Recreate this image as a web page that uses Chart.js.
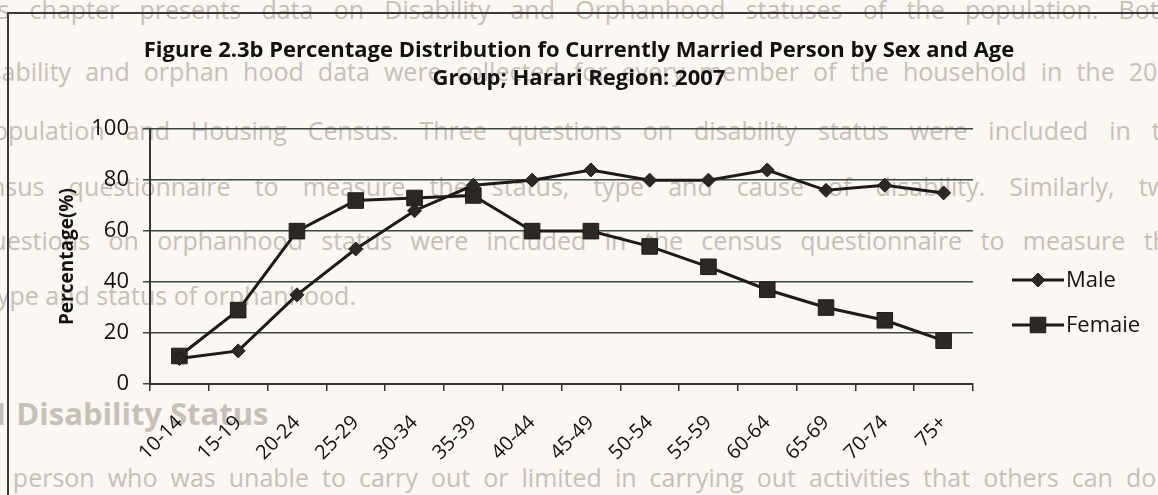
<!DOCTYPE html>
<html>
<head>
<meta charset="utf-8">
<script src="https://cdn.jsdelivr.net/npm/chart.js@4"></script>
<style>
  html, body { margin: 0; padding: 0; background: #fbf7f2; }
  #page { position: relative; width: 1158px; height: 495px; overflow: hidden; }
  .bg { position: absolute; white-space: nowrap; font-family: "Open Sans", sans-serif; font-size: 25px;
        color: #c6c0b9; line-height: 30px; text-align: justify; text-align-last: justify; }
  #frame { position: absolute; left: 7px; top: 12px; right: -5px; bottom: -5px;
           border-left: 2px solid #3a3a3a; border-top: 2px solid #3a3a3a; }
  canvas { position: absolute; left: 0; top: 0; }
</style>
</head>
<body>
<div id="page">
  <!-- text from the page behind, showing through the scan -->
  <div class="bg" style="left:-38px; top:-6px; width:1212px;">This chapter presents data on Disability and Orphanhood statuses of the population. Both</div>
  <div class="bg" style="left:-32px; top:56px; width:1218px;">disability and orphan hood data were collected for every member of the household in the 2007</div>
  <div class="bg" style="left:-22px; top:115px; width:1212px;">Population and Housing Census. Three questions on disability status were included in the</div>
  <div class="bg" style="left:-36px; top:171px; width:1218px;">census questionnaire to measure the status, type and cause of disability. Similarly, two</div>
  <div class="bg" style="left:-24px; top:225px; width:1206px;">questions on orphanhood status were included in the census questionnaire to measure the</div>
  <div class="bg" style="left:-12px; top:280px; text-align-last:left;">type and status of orphanhood.</div>
  <div class="bg" style="left:-36px; top:395px; font-size:31px; line-height:36px; font-weight:bold; text-align-last:left;">4.1 Disability Status</div>
  <div class="bg" style="left:-16px; top:462px; width:1230px;">A person who was unable to carry out or limited in carrying out activities that others can do due</div>
  <div id="frame"></div>
  <canvas id="grafico" width="1158" height="495"></canvas>
</div>
<script>
// Dados
const faixasEtarias = ['10-14', '15-19', '20-24', '25-29', '30-34', '35-39', '40-44',
                       '45-49', '50-54', '55-59', '60-64', '65-69', '70-74', '75+'];
const homens = [10, 13, 35, 53, 68, 78, 80, 84, 80, 80, 84, 76, 78, 75];
const mulheres = [11, 29, 60, 72, 73, 74, 60, 60, 54, 46, 37, 30, 25, 17];
const nomesSeries = ['Male', 'Femaie'];
const marcadores = ['rectRot', 'rect'];
const escalaY = { min: 0, max: 100, passo: 20 };

const corLinha = '#1d1b19';
const corMarcador = '#2c2825';
const fonte = '"Open Sans", Lato, sans-serif';

// legenda desenhada à mão: linha com marcador no meio, como no Excel
const legendaExcel = {
  id: 'legendaExcel',
  afterDraw(chart) {
    const ctx = chart.ctx;
    ctx.save();
    chart.data.datasets.forEach((ds, i) => {
      const y = 280 + i * 45;
      ctx.strokeStyle = corLinha;
      ctx.lineWidth = 3;
      ctx.beginPath();
      ctx.moveTo(1012, y);
      ctx.lineTo(1064, y);
      ctx.stroke();
      ctx.fillStyle = corMarcador;
      ctx.strokeStyle = corLinha;
      ctx.lineWidth = 1;
      Chart.helpers.drawPoint(ctx, {
        pointStyle: ds.pointStyle,
        radius: ds.pointRadius,
        rotation: 0,
        borderWidth: 1
      }, 1038, y);
      ctx.fillStyle = '#111';
      ctx.font = '22px ' + fonte;
      ctx.textBaseline = 'middle';
      ctx.textAlign = 'left';
      ctx.fillText(ds.label, 1066, y + 1);
    });
    ctx.restore();
  }
};

const ctx = document.getElementById('grafico').getContext('2d');
new Chart(ctx, {
  type: 'line',
  data: {
    labels: faixasEtarias,
    datasets: [
      {
        label: nomesSeries[0],
        data: homens,
        borderColor: corLinha,
        borderWidth: 3,
        pointStyle: marcadores[0],
        pointRadius: 7,
        pointBackgroundColor: corMarcador,
        pointBorderColor: corLinha,
        pointBorderWidth: 1,
        tension: 0
      },
      {
        label: nomesSeries[1],
        data: mulheres,
        borderColor: corLinha,
        borderWidth: 3,
        pointStyle: marcadores[1],
        pointRadius: 11,
        pointBackgroundColor: corMarcador,
        pointBorderColor: corLinha,
        pointBorderWidth: 1,
        tension: 0
      }
    ]
  },
  options: {
    responsive: false,
    animation: false,
    layout: { padding: 0 },
    plugins: {
      legend: { display: false },
      tooltip: { enabled: false },
      title: {
        display: true,
        text: ['Figure 2.3b Percentage Distribution fo Currently Married Person by Sex and Age',
               'Group; Harari Region: 2007'],
        color: '#111',
        font: { family: fonte, size: 22, weight: 'bold', lineHeight: 1.3 },
        padding: { top: 36, bottom: 36 }
      }
    },
    scales: {
      x: {
        offset: true,
        grid: { offset: true, drawOnChartArea: false, drawTicks: true, tickLength: 7, color: '#333', lineWidth: 1.5 },
        border: { color: '#333', width: 2 },
        ticks: { minRotation: 45, maxRotation: 45, padding: 20, color: '#111', font: { family: fonte, size: 20 } },
        afterFit: s => { s.height = 111; }
      },
      y: {
        min: escalaY.min,
        max: escalaY.max,
        grid: { color: '#3b4640', lineWidth: 1.5, tickLength: 7 },
        border: { color: '#333', width: 2 },
        ticks: { stepSize: escalaY.passo, padding: 14, color: '#111', font: { family: fonte, size: 22 } },
        title: {
          display: true,
          text: 'Percentage(%)',
          color: '#111',
          font: { family: fonte, size: 19, weight: 'bold' },
          padding: { top: 56, bottom: 0 }
        },
        afterFit: s => { s.width = 150; }
      },
      // espaço vazio à direita onde fica a legenda
      direita: {
        position: 'right',
        display: true,
        ticks: { display: false },
        grid: { display: false },
        border: { display: false },
        afterFit: s => { s.width = 185; }
      }
    }
  },
  plugins: [legendaExcel]
});
</script>
</body>
</html>
